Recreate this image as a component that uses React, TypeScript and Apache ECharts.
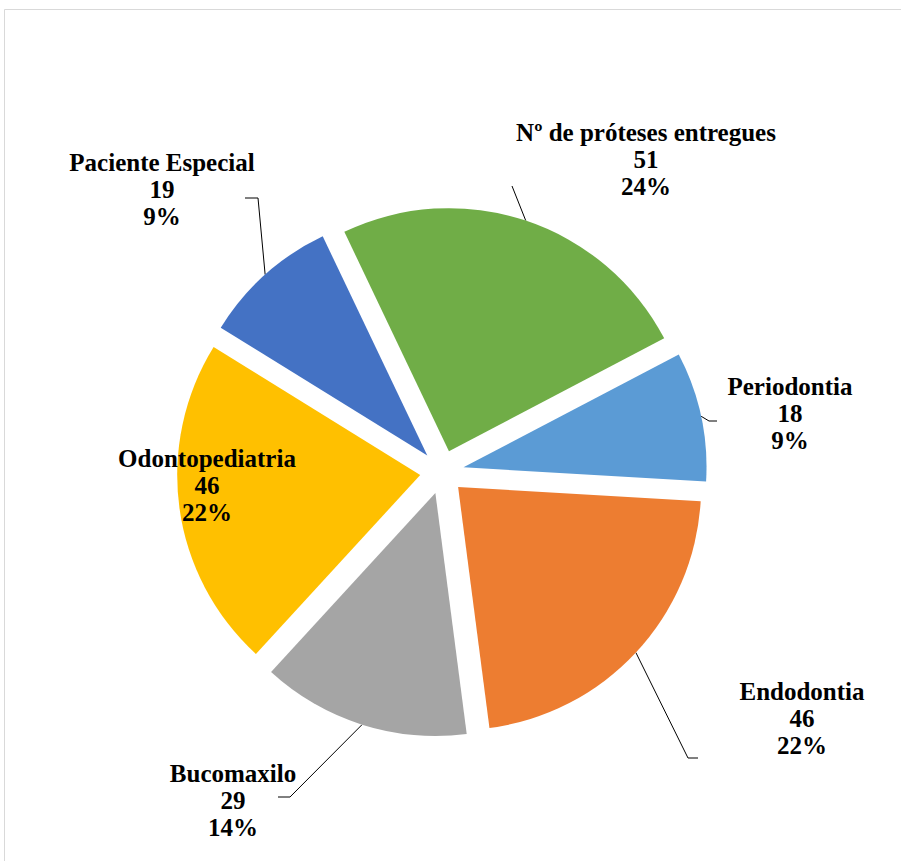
import React, { useEffect, useRef } from 'react';
import * as echarts from 'echarts';

const categories = [
  'Nº de próteses entregues',
  'Periodontia',
  'Endodontia',
  'Bucomaxilo',
  'Odontopediatria',
  'Paciente Especial',
];
const values = [51, 18, 46, 29, 46, 19];
const colors = ['#70AD47', '#5B9BD5', '#ED7D31', '#A5A5A5', '#FFC000', '#4472C4'];

// layout settings (pixels)
const CENTER = [442, 472];
const RADIUS = 243;
const OFFSET = 22;
const START_ANGLE = 115.5;
const labelAnchors = [
  [646, 159],
  [790, 413],
  [802, 718],
  [233, 800],
  [207, 485],
  [162, 189],
];
const leaderBends: number[][][] = [
  [[512, 186]],
  [[709, 421], [717, 421]],
  [[688, 758], [698, 758]],
  [[290, 797], [278, 797]],
  [],
  [[258, 198], [245, 198]],
];

const total = values.reduce((a, b) => a + b, 0);

function edgePoint(i: number) {
  const before = values.slice(0, i).reduce((a, b) => a + b, 0);
  const mid = START_ANGLE - ((before + values[i] / 2) / total) * 360;
  const rad = (mid * Math.PI) / 180;
  const cx = CENTER[0] + OFFSET * Math.cos(rad);
  const cy = CENTER[1] - OFFSET * Math.sin(rad);
  return [cx + RADIUS * Math.cos(rad), cy - RADIUS * Math.sin(rad)];
}

export default function App() {
  const ref = useRef<HTMLDivElement>(null);
  useEffect(() => {
    if (!ref.current) return;
    const chart = echarts.init(ref.current, null, { renderer: 'svg' });
    const font = {
      fontFamily: '"Liberation Serif", "Times New Roman", serif',
      fontWeight: 'bold' as const,
      fontSize: 25,
      lineHeight: 27,
      color: '#000',
    };
    chart.setOption({
      animation: false,
      backgroundColor: '#fff',
      graphic: [
        {
          type: 'rect',
          shape: { x: 4.5, y: 9.5, width: 1000, height: 1000 },
          style: { fill: 'none', stroke: '#d9d9d9', lineWidth: 1 },
          silent: true,
          z: -10,
        },
      ],
      series: [
        {
          type: 'pie',
          center: CENTER,
          radius: RADIUS,
          startAngle: START_ANGLE,
          clockwise: true,
          selectedMode: 'multiple',
          selectedOffset: OFFSET,
          silent: true,
          label: { show: false },
          labelLine: { show: false },
          emphasis: { disabled: true },
          data: categories.map((name, i) => ({
            name,
            value: values[i],
            selected: true,
            itemStyle: { color: colors[i] },
          })),
        },
        {
          type: 'pie',
          center: CENTER,
          radius: RADIUS,
          startAngle: START_ANGLE,
          clockwise: true,
          silent: true,
          percentPrecision: 0,
          avoidLabelOverlap: false,
          itemStyle: { color: 'rgba(0,0,0,0)' },
          emphasis: { disabled: true },
          label: {
            show: true,
            position: 'outside',
            formatter: '{b}\n{c}\n{d}%',
            align: 'center',
            ...font,
          },
          labelLine: {
            show: true,
            lineStyle: { color: '#000', width: 1 },
          },
          labelLayout: (params: any) => {
            const i = params.dataIndex;
            const bends = leaderBends[i];
            const out: any = {
              x: labelAnchors[i][0],
              y: labelAnchors[i][1],
              align: 'center',
              verticalAlign: 'middle',
            };
            if (bends.length) {
              out.labelLinePoints = [edgePoint(i), ...bends];
            }
            return out;
          },
          data: categories.map((name, i) => ({
            name,
            value: values[i],
            labelLine: { show: leaderBends[i].length > 0 },
          })),
        },
      ],
    });
    return () => chart.dispose();
  }, []);
  return (
    <div
      ref={ref}
      style={{ position: 'fixed', left: 0, top: 0, width: 901, height: 861 }}
    />
  );
}
